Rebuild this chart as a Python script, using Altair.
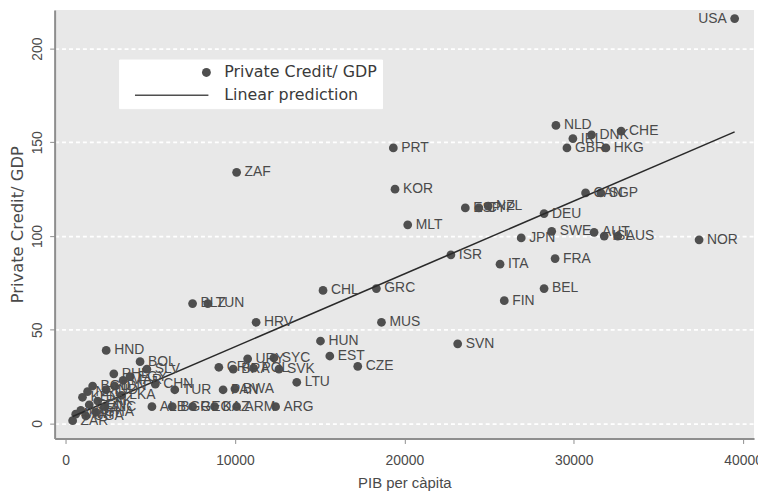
import altair as alt
import pandas as pd

# ---- data ----
countries = [
    "USA", "NLD", "CHE", "DNK", "IRL", "GBR", "HKG", "PRT", "ZAF", "KOR",
    "CAN", "SGP", "MLT", "ESP", "CYP", "NZL", "DEU", "JPN", "SWE", "AUT",
    "ISL", "AUS", "NOR", "ISR", "ITA", "FRA", "BEL", "FIN", "SVN", "GRC",
    "CHL", "MUS", "HUN", "EST", "CZE", "LTU", "HRV", "BLZ", "TUN", "ARG",
    "CRI", "BRA", "URY", "POL", "SYC", "SVK", "TUR", "PAN", "BWA", "ALB",
    "BGR", "GEO", "KAZ", "ARM", "HND", "BOL", "SLV", "PHL", "CHN", "ZAR",
    "KEN", "NPL", "BGD", "IND", "PAK", "GHA", "SEN", "IDN", "MAR", "EGY",
    "NIC", "LKA", "NGA", "MWI", "UGA",
]
gdp_per_capita = [
    39500, 28950, 32800, 31050, 29950, 29600, 31900, 19350, 10100, 19450,
    30700, 31600, 20200, 23600, 24400, 24950, 28250, 26900, 28700, 31200,
    31800, 32600, 37400, 22750, 25650, 28900, 28250, 25900, 23150, 18350,
    15200, 18650, 15050, 15600, 17250, 13650, 11250, 7500, 8400, 12400,
    9050, 9900, 10750, 11100, 12300, 12600, 6450, 9300, 10000, 5100,
    6300, 7500, 8800, 10100, 2400, 4400, 4800, 2850, 5300, 420,
    1000, 1300, 1600, 2400, 1900, 1800, 1400, 2900, 3400, 3800,
    2300, 3300, 900, 600, 1200,
]
private_credit = [
    216, 159, 156, 154, 152, 147, 147, 147, 134, 125,
    123, 123, 106, 115, 115, 116, 112, 99, 102.5, 102,
    100, 100, 98, 90, 85, 88, 72, 65.5, 42.5, 72,
    71, 54, 44, 36, 30.5, 22, 54, 64, 64, 9,
    30, 29, 34.5, 29.5, 35, 29, 18, 18, 18.5, 9,
    9, 9, 9, 9, 39, 33, 29, 26.5, 21, 1.5,
    14, 17, 20, 18, 12, 6, 10, 20, 23, 25,
    9, 15, 7, 5, 4,
]
x_ticks = [0, 10000, 20000, 30000, 40000]
y_ticks = [0, 50, 100, 150, 200]
legend_labels = ["Private Credit/ GDP", "Linear prediction"]
left_labelled = ["USA"]

df = pd.DataFrame({
    "country": countries,
    "gdp": gdp_per_capita,
    "credit": private_credit,
    "series": legend_labels[0],
})

LINE_SYMBOL = "M-16.1,-0.17H0.45V0.17H-16.1Z"
FONT = "Liberation Sans"
DOT = "#4f4f4f"

x_enc = alt.X(
    "gdp:Q",
    scale=alt.Scale(domain=[-644, 40644], nice=False, zero=False),
    axis=alt.Axis(values=x_ticks, format="d", title="PIB per càpita", grid=False,
                  labelPadding=10, titlePadding=8, titleFontSize=15),
)
y_enc = alt.Y(
    "credit:Q",
    scale=alt.Scale(domain=[-8, 220.6], nice=False, zero=False),
    axis=alt.Axis(values=y_ticks, title="Private Credit/ GDP", grid=True,
                  gridColor="white", gridDash=[4, 3], gridWidth=1.6,
                  labelAngle=270, labelAlign="center", labelBaseline="bottom",
                  labelPadding=5, titlePadding=5, titleFont="DejaVu Sans",
                  titleFontSize=16.5),
)

base = alt.Chart(df)

points = base.mark_point(filled=True, size=78, color=DOT, opacity=1).encode(
    x=x_enc,
    y=y_enc,
    shape=alt.Shape(
        "series:N",
        scale=alt.Scale(domain=legend_labels, range=["circle", LINE_SYMBOL]),
        legend=alt.Legend(
            title=None, orient="none", legendX=65, legendY=50,
            fillColor="white", strokeColor="white", padding=5,
            symbolSize=80, symbolOffset=75, labelOffset=10,
            symbolFillColor="#333333", symbolStrokeWidth=0,
            labelFont="DejaVu Sans", labelFontSize=16, labelColor="#3a3a3a",
            rowPadding=7, labelLimit=300,
        ),
    ),
)

line = base.transform_regression("gdp", "credit").mark_line(
    color="#2a2a2a", strokeWidth=1.6
).encode(x="gdp:Q", y="credit:Q")

labels_right = base.transform_filter(
    ~alt.FieldOneOfPredicate(field="country", oneOf=left_labelled)
).mark_text(
    align="left", baseline="middle", dx=8, fontSize=14, font=FONT, color="#4a4a4a"
).encode(x="gdp:Q", y="credit:Q", text="country:N")

labels_left = base.transform_filter(
    alt.FieldOneOfPredicate(field="country", oneOf=left_labelled)
).mark_text(
    align="right", baseline="middle", dx=-8, fontSize=14, font=FONT, color="#4a4a4a"
).encode(x="gdp:Q", y="credit:Q", text="country:N")

chart = (
    alt.layer(points, line, labels_right, labels_left)
    .properties(
        width=705,
        height=432,
        autosize=alt.AutoSizeParams(type="none"),
        padding={"left": 47, "top": 0, "right": 4, "bottom": 57},
        background="white",
    )
    .configure_view(fill="#e8e8e8", strokeWidth=0)
    .configure_axis(
        domainColor="#8e8e8e", domainWidth=2, tickColor="#8e8e8e", tickSize=5,
        labelColor="#4a4a4a", titleColor="#4a4a4a", labelFont=FONT, titleFont=FONT,
        labelFontSize=14, titleFontSize=14, titleFontWeight="normal",
    )
)

chart.save("out.html", embed_options={"renderer": "svg", "actions": False})
